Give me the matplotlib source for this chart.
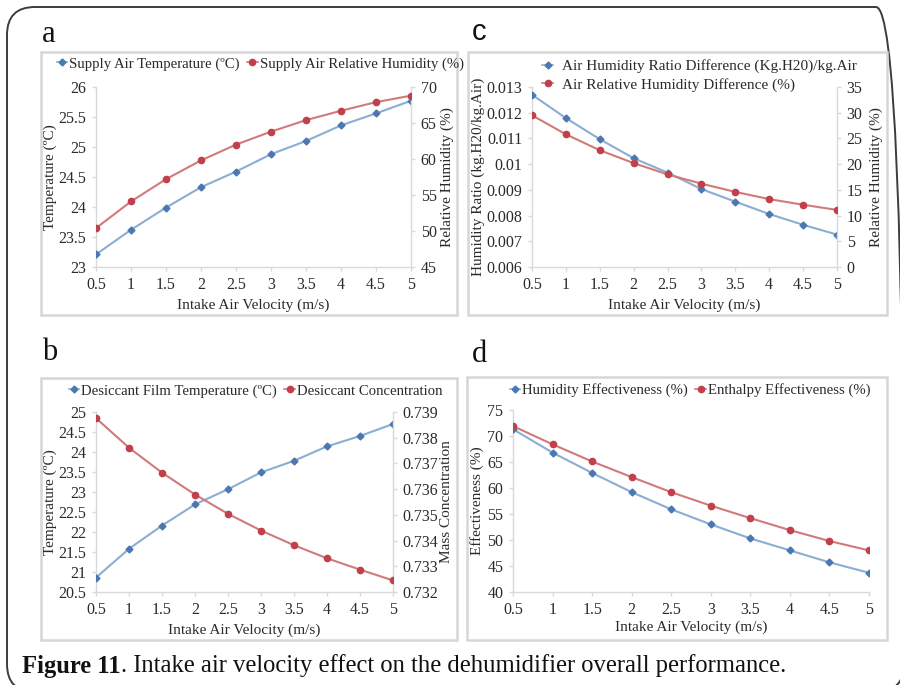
import matplotlib
matplotlib.use("Agg")
import matplotlib.pyplot as plt
from matplotlib.patches import FancyBboxPatch, Rectangle
from matplotlib.transforms import IdentityTransform
from matplotlib.lines import Line2D

plt.rcParams['font.family'] = ['Liberation Serif', 'DejaVu Serif']

# ---------------- data ----------------
velocity = [0.5, 1, 1.5, 2, 2.5, 3, 3.5, 4, 4.5, 5]
xtick_labels = ["0.5", "1", "1.5", "2", "2.5", "3", "3.5", "4", "4.5", "5"]

# (a)
supply_temp = [23.21, 23.62, 23.99, 24.33, 24.59, 24.88, 25.10, 25.36, 25.56, 25.77]
supply_rh = [50.4, 54.1, 57.2, 59.8, 62.0, 63.8, 65.4, 66.7, 67.9, 68.8]
# (b)
film_temp = [20.86, 21.58, 22.16, 22.69, 23.07, 23.49, 23.78, 24.14, 24.40, 24.70]
desiccant_conc = [0.73876, 0.73761, 0.73664, 0.73579, 0.73504, 0.73439, 0.73382, 0.73331, 0.73287, 0.73245]
# (c)
hum_ratio_diff = [0.0127, 0.01179, 0.01097, 0.01023, 0.00967, 0.00903, 0.00854, 0.00806, 0.00764, 0.00726]
rh_diff = [29.5, 25.8, 22.7, 20.2, 18.0, 16.2, 14.6, 13.2, 12.1, 11.1]
# (d)
humidity_eff = [71.3, 66.8, 62.9, 59.2, 55.9, 53.0, 50.3, 48.0, 45.7, 43.7]
enthalpy_eff = [71.9, 68.4, 65.1, 62.1, 59.2, 56.6, 54.2, 51.9, 49.8, 48.0]

W, H = 900, 685
fig = plt.figure(figsize=(W / 100, H / 100), dpi=100)
fig.patch.set_facecolor('white')

BLUE_L, BLUE_M = '#8aaed3', '#4a78b0'
RED_L, RED_M = '#d27a7a', '#c0404c'
GRID = '#d9d9d9'
TXT = '#2a2a2a'
TICK_FS = 11.5
LAB_FS = 11
LEG_FS = 10.6


# outer rounded frame
fig.patches.append(FancyBboxPatch((7, H - 692), 897, 685,
                                  boxstyle="round,pad=0,rounding_size=28",
                                  transform=IdentityTransform(), fill=False,
                                  edgecolor='#3c3c3c', lw=1.4, figure=fig))

# chart boxes
for (l, t, r, b) in [(41, 52, 457, 315), (468, 52, 887, 315),
                     (41, 378, 457, 640), (467, 377, 887, 640)]:
    fig.patches.append(Rectangle((l, H - b), r - l, b - t, transform=IdentityTransform(),
                                 fill=False, edgecolor='#d6d6d6', lw=1.8, figure=fig))


def px_axes(l, t, r, b):
    return fig.add_axes([l / W, 1 - b / H, (r - l) / W, (b - t) / H])


def style(ax, right=False):
    ax.spines['top'].set_visible(False)
    ax.spines['right'].set_visible(right)
    for s in ['left', 'bottom', 'right']:
        ax.spines[s].set_color(GRID)
        ax.spines[s].set_linewidth(1.0)
    ax.tick_params(axis='both', colors=GRID, labelcolor=TXT, labelsize=TICK_FS,
                   length=3, width=1.0)
    ax.tick_params(axis='y', pad=4)
    ax.tick_params(axis='x', pad=4)
    ax.patch.set_alpha(0)


def plot_pair(ax, y, line_c, mark_c, marker, ms):
    return ax.plot(velocity, y, color=line_c, lw=1.5, marker=marker, ms=ms,
                   mfc=mark_c, mec=mark_c, zorder=3)[0]


def set_labels(ax, ylabel, ylab_px, axl, axr, xlab_py, axt, axb, twin=None, ylabel2=None, ylab2_px=None):
    w = axr - axl
    h = axb - axt
    ax.set_ylabel(ylabel, fontsize=LAB_FS, color=TXT)
    ax.yaxis.set_label_coords((ylab_px - axl) / w, 0.5)
    ax.set_xlabel("Intake Air Velocity (m/s)", fontsize=LAB_FS, color=TXT)
    ax.xaxis.set_label_coords(0.5, -(xlab_py - axb) / h)
    ax.xaxis.label.set_va('center')
    ax.yaxis.label.set_va('center')
    if twin is not None:
        twin.set_ylabel(ylabel2, fontsize=LAB_FS, color=TXT, rotation=90)
        twin.yaxis.set_label_coords((ylab2_px - axl) / w, 0.5)
        twin.yaxis.label.set_va('center')


def legend_handle(line_c, mark_c, marker, ms):
    return Line2D([], [], color=line_c, lw=1.2, marker=marker, ms=ms, mfc=mark_c, mec=mark_c)


LEG_KW = dict(frameon=False, fontsize=LEG_FS, handlelength=0.7, handletextpad=0.15,
              columnspacing=0.5, labelcolor=TXT, borderpad=0.1)

# ---------------- panel a ----------------
l, t, r, b = 96, 87, 411, 267
ax = px_axes(l, t, r, b)
ax2 = ax.twinx()
plot_pair(ax, supply_temp, BLUE_L, BLUE_M, 'D', 3.5)
plot_pair(ax2, supply_rh, RED_L, RED_M, 'o', 4.5)
ax.set_xlim(0.5, 5)
ax.set_ylim(23, 26)
ax.set_yticks([23, 23.5, 24, 24.5, 25, 25.5, 26])
ax.set_yticklabels(["23", "23.5", "24", "24.5", "25", "25.5", "26"])
ax2.set_ylim(45, 70)
ax2.set_yticks([45, 50, 55, 60, 65, 70])
ax.set_xticks(velocity)
ax.set_xticklabels(xtick_labels)
style(ax)
style(ax2, right=True)
ax2.spines['left'].set_visible(False)
ax2.spines['bottom'].set_visible(False)
set_labels(ax, "Temperature (ºC)", 50, l, r, 305, t, b, ax2, "Relative Humidity (%)", 447)
fig.legend([legend_handle(BLUE_L, BLUE_M, 'D', 3.5), legend_handle(RED_L, RED_M, 'o', 4.5)],
           ["Supply Air Temperature (ºC)", "Supply Air Relative Humidity (%)"],
           loc='center left', bbox_to_anchor=(48 / W, 1 - 64 / H), ncol=2, **LEG_KW)
fig.text(42 / W, 1 - 35 / H, "a", fontsize=22, color='#111111', va='center', ha='left')

# ---------------- panel c ----------------
l, t, r, b = 532, 87, 837, 267
ax = px_axes(l, t, r, b)
ax2 = ax.twinx()
plot_pair(ax, hum_ratio_diff, BLUE_L, BLUE_M, 'D', 3.5)
plot_pair(ax2, rh_diff, RED_L, RED_M, 'o', 4.5)
ax.set_xlim(0.5, 5)
ax.set_ylim(0.006, 0.013)
yt = [0.006, 0.007, 0.008, 0.009, 0.010, 0.011, 0.012, 0.013]
ax.set_yticks(yt)
ax.set_yticklabels(["0.006", "0.007", "0.008", "0.009", "0.01", "0.011", "0.012", "0.013"])
ax2.set_ylim(0, 35)
ax2.set_yticks([0, 5, 10, 15, 20, 25, 30, 35])
ax.set_xticks(velocity)
ax.set_xticklabels(xtick_labels)
style(ax)
style(ax2, right=True)
ax2.spines['left'].set_visible(False)
ax2.spines['bottom'].set_visible(False)
set_labels(ax, "Humidity Ratio (kg.H20/kg.Air)", 478, l, r, 305, t, b, ax2, "Relative Humidity (%)", 876)
fig.legend([legend_handle(BLUE_L, BLUE_M, 'D', 3.5), legend_handle(RED_L, RED_M, 'o', 4.5)],
           ["Air Humidity Ratio Difference (Kg.H20)/kg.Air", "Air Relative Humidity Difference (%)"],
           loc='upper left', bbox_to_anchor=(533 / W, 1 - 50 / H), ncol=1,
           frameon=False, fontsize=11, handlelength=0.7, handletextpad=0.6,
           labelspacing=0.3, labelcolor=TXT, borderpad=0.1)
fig.text(472 / W, 1 - 32 / H, "c", fontsize=21, color='#111111', va='center', ha='left',
         family=['Liberation Sans', 'DejaVu Sans'])

# ---------------- panel b ----------------
l, t, r, b = 96, 412, 393, 592
ax = px_axes(l, t, r, b)
ax2 = ax.twinx()
plot_pair(ax, film_temp, BLUE_L, BLUE_M, 'D', 3.5)
plot_pair(ax2, desiccant_conc, RED_L, RED_M, 'o', 4.5)
ax.set_xlim(0.5, 5)
ax.set_ylim(20.5, 25)
ax.set_yticks([20.5, 21, 21.5, 22, 22.5, 23, 23.5, 24, 24.5, 25])
ax.set_yticklabels(["20.5", "21", "21.5", "22", "22.5", "23", "23.5", "24", "24.5", "25"])
ax2.set_ylim(0.732, 0.739)
ax2.set_yticks([0.732, 0.733, 0.734, 0.735, 0.736, 0.737, 0.738, 0.739])
ax2.set_yticklabels(["0.732", "0.733", "0.734", "0.735", "0.736", "0.737", "0.738", "0.739"])
ax.set_xticks(velocity)
ax.set_xticklabels(xtick_labels)
style(ax)
style(ax2, right=True)
ax2.spines['left'].set_visible(False)
ax2.spines['bottom'].set_visible(False)
set_labels(ax, "Temperature (ºC)", 50, l, r, 630, t, b, ax2, "Mass Concentration", 446)
fig.legend([legend_handle(BLUE_L, BLUE_M, 'D', 3.5), legend_handle(RED_L, RED_M, 'o', 4.5)],
           ["Desiccant Film Temperature (ºC)", "Desiccant Concentration"],
           loc='center left', bbox_to_anchor=(60 / W, 1 - 391 / H), ncol=2, **LEG_KW)
fig.text(42 / W, 1 - 353 / H, "b", fontsize=22, color='#111111', va='center', ha='left')

# ---------------- panel d ----------------
l, t, r, b = 513, 410, 869, 592
ax = px_axes(l, t, r, b)
plot_pair(ax, humidity_eff, BLUE_L, BLUE_M, 'D', 3.5)
plot_pair(ax, enthalpy_eff, RED_L, RED_M, 'o', 4.5)
ax.set_xlim(0.5, 5)
ax.set_ylim(40, 75)
ax.set_yticks([40, 45, 50, 55, 60, 65, 70, 75])
ax.set_xticks(velocity)
ax.set_xticklabels(xtick_labels)
style(ax)
set_labels(ax, "Effectiveness (%)", 477, l, r, 627, t, b)
fig.legend([legend_handle(BLUE_L, BLUE_M, 'D', 3.5), legend_handle(RED_L, RED_M, 'o', 4.5)],
           ["Humidity Effectiveness (%)", "Enthalpy Effectiveness (%)"],
           loc='center left', bbox_to_anchor=(501 / W, 1 - 390 / H), ncol=2, **LEG_KW)
fig.text(472 / W, 1 - 355 / H, "d", fontsize=22, color='#111111', va='center', ha='left')

# ---------------- caption ----------------
t1 = fig.text(22 / W, 1 - 666 / H, "Figure 11", fontsize=17.7, fontweight='bold',
              color='#111111', va='center', ha='left')
fig.canvas.draw()
bb = t1.get_window_extent()
fig.text(bb.x1 / W, 1 - 666 / H, ". Intake air velocity effect on the dehumidifier overall performance.",
         fontsize=17.7, color='#111111', va='center', ha='left')

fig.savefig("out.png", dpi=100)
